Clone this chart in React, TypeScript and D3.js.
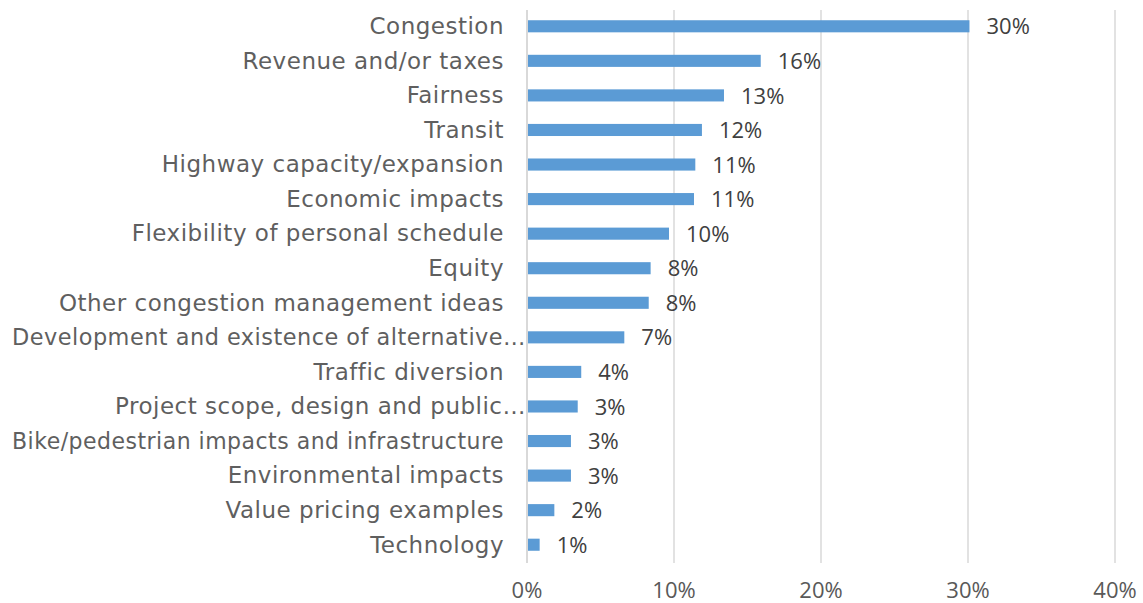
import React, { useLayoutEffect, useRef } from "react";
import * as d3 from "d3";

const categories = [
  "Congestion",
  "Revenue and/or taxes",
  "Fairness",
  "Transit",
  "Highway capacity/expansion",
  "Economic impacts",
  "Flexibility of personal schedule",
  "Equity",
  "Other congestion management ideas",
  "Development and existence of alternative…",
  "Traffic diversion",
  "Project scope, design and public…",
  "Bike/pedestrian impacts and infrastructure",
  "Environmental impacts",
  "Value pricing examples",
  "Technology",
];
const values = [30.1, 15.9, 13.4, 11.9, 11.45, 11.36, 9.66, 8.41, 8.28, 6.62, 3.69, 3.45, 2.99, 2.99, 1.86, 0.86];
const valueLabels = ["30%", "16%", "13%", "12%", "11%", "11%", "10%", "8%", "8%", "7%", "4%", "3%", "3%", "3%", "2%", "1%"];
const ticks = [0, 10, 20, 30, 40];
const tickLabels = ["0%", "10%", "20%", "30%", "40%"];

const W = 1143;
const H = 603;
const CAT_FONT = "'DejaVu Sans', sans-serif";
const NUM_FONT = "'Open Sans', sans-serif";
const LEFT_LIMIT = 12;

export default function App() {
  const svgRef = useRef<SVGSVGElement>(null);
  const x = d3.scaleLinear().domain([0, 40]).range([527, 1115]);
  const y = d3.scaleBand<string>().domain(categories).range([9, 562]).paddingInner(0.65).paddingOuter(0.325);

  useLayoutEffect(() => {
    if (!svgRef.current) return;
    d3.select(svgRef.current)
      .selectAll<SVGTextElement, unknown>("text.cat")
      .each(function () {
        const anchorX = +(this.getAttribute("x") || 0);
        const avail = anchorX - LEFT_LIMIT;
        const len = this.getComputedTextLength();
        if (len > avail) {
          this.setAttribute("textLength", String(avail));
          this.setAttribute("lengthAdjust", "spacingAndGlyphs");
        }
      });
  }, []);

  return (
    <svg ref={svgRef} width={W} height={H} style={{ position: "absolute", left: 0, top: 0, background: "#fff" }}>
      {ticks.map((t, i) => (
        <g key={t}>
          <line x1={x(t)} x2={x(t)} y1={10} y2={563} stroke="#d9d9d9" strokeWidth={i === 0 ? 2 : 1.5} />
          <text x={x(t)} y={598} textAnchor="middle" fontFamily={NUM_FONT} fontSize={22} fill="#595959">
            {tickLabels[i]}
          </text>
        </g>
      ))}
      {categories.map((c, i) => {
        const yy = y(c)!;
        const cy = yy + y.bandwidth() / 2;
        const truncated = c.endsWith("…");
        return (
          <g key={c}>
            <rect x={x(0) + 1} y={yy} width={x(values[i]) - x(0) - 1} height={y.bandwidth()} fill="#5b9bd5" />
            <text
              className="cat"
              x={truncated ? x(0) - 1 : x(0) - 23}
              y={cy}
              dy="0.34em"
              textAnchor="end"
              fontFamily={CAT_FONT}
              fontSize={23}
              letterSpacing={0.5}
              fill="#5f5f5f"
            >
              {c}
            </text>
            <text x={x(values[i]) + 17} y={cy} dy="0.37em" fontFamily={NUM_FONT} fontSize={22} fill="#404040">
              {valueLabels[i]}
            </text>
          </g>
        );
      })}
    </svg>
  );
}
